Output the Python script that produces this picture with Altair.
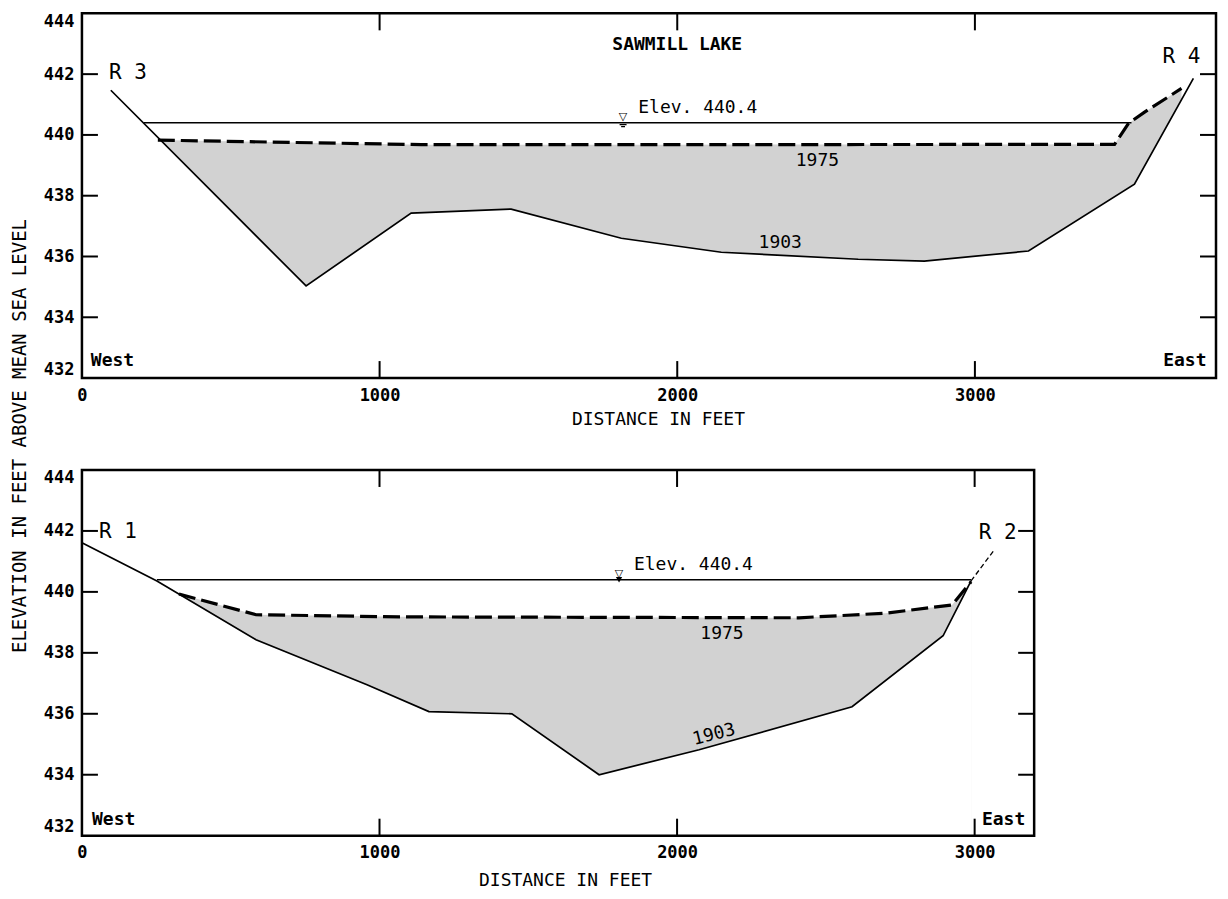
import altair as alt
import pandas as pd

FONT = "DejaVu Sans Mono"

# ---------------- data ----------------
x_tick_labels = [0, 1000, 2000, 3000]
x_inner_ticks = [1000, 2000, 3000]
y_tick_labels = [432, 434, 436, 438, 440, 442, 444]
y_inner_ticks = [434, 436, 438, 440, 442]
water_elev = 440.4

# Upper section (R3 - R4)
top_1903_x = [97, 753, 1106, 1442, 1812, 2148, 2608, 2830, 3180, 3536, 3734]
top_1903_y = [441.47, 435.03, 437.43, 437.56, 436.60, 436.14, 435.91, 435.85, 436.18, 438.38, 441.86]
top_1975_x = [255, 1140, 2000, 3469, 3516, 3570, 3694]
top_1975_y = [439.83, 439.68, 439.68, 439.69, 440.38, 440.75, 441.53]
top_water_x = [208, 3526]
top_symbol_x = [1818]

# Lower section (R1 - R2)
bot_1903_x = [0, 252, 585, 958, 1166, 1445, 1738, 2074, 2588, 2894, 2988]
bot_1903_y = [441.61, 440.36, 438.43, 436.95, 436.07, 436.00, 434.00, 434.82, 436.23, 438.56, 440.36]
bot_1903_ext_x = [2988, 3066]
bot_1903_ext_y = [440.36, 441.38]
bot_1975_x = [326, 585, 1066, 2410, 2700, 2924, 2988]
bot_1975_y = [439.93, 439.25, 439.18, 439.15, 439.30, 439.57, 440.33]
bot_water_x = [252, 2988]
bot_symbol_x = [1805]

# annotation texts and their positions (feet, elevation)
top_bold_text = ["SAWMILL LAKE"]
top_bold_x = [2000]
top_bold_y = [442.95]
top_elev_x = [1869]
top_elev_y = [440.88]
top_year_text = ["1975", "1903"]
top_year_x = [2471, 2346]
top_year_y = [439.13, 436.44]
top_r_text = ["R 3", "R 4"]
top_r_x = [91, 3630]
top_r_y = [442.03, 442.55]
top_west_x, top_east_x, top_we_y = 30, 3778, 432.55

bot_elev_x = [1855]
bot_elev_y = [440.89]
bot_year_text = ["1975"]
bot_year_x = [2151]
bot_year_y = [438.62]
bot_rot_text = ["1903"]
bot_rot_x = [2124]
bot_rot_y = [435.31]
bot_r_text = ["R 1", "R 2"]
bot_r_x = [57, 3014]
bot_r_y = [441.97, 441.93]
bot_west_x, bot_east_x, bot_we_y = 34, 3170, 432.52

elev_label = "Elev. 440.4"
y_title = "ELEVATION IN FEET ABOVE MEAN SEA LEVEL"


def panel(W, H, xmax, l03, l75, ext03, water_x, sym_x, sym_style, texts, title_pad, title_dx, extra_layers=()):
    xs = alt.Scale(domain=[0, xmax], nice=False, zero=False)
    ys = alt.Scale(domain=[432, 444], nice=False, zero=False)
    xax = alt.Axis(values=x_tick_labels, title="DISTANCE IN FEET", ticks=False, domain=False,
                   grid=False, labelPadding=9, labelFlush=False, titlePadding=title_pad,
                   titleX=W / 2 + title_dx, format="d")
    yax = alt.Axis(values=y_tick_labels, title="", ticks=False, domain=False, grid=False,
                   labelPadding=8, labelFlush=True, format="d")

    def X():
        return alt.X("x:Q", scale=xs, axis=xax)

    def Y():
        return alt.Y("y:Q", scale=ys, axis=yax)

    d03 = pd.DataFrame({"x": l03[0], "y": l03[1]})
    d75 = pd.DataFrame({"x": l75[0], "y": l75[1]})
    dw = pd.DataFrame({"x": water_x, "y": [water_elev] * len(water_x)})

    layers = []
    layers.append(alt.Chart(d75).mark_area(color="#d2d2d2").encode(x=X(), y=Y(), y2=alt.datum(432)))
    layers.append(alt.Chart(d03).mark_area(color="white", opacity=1).encode(x=X(), y=Y(), y2=alt.datum(432)))
    layers.append(alt.Chart(dw).mark_line(color="black", strokeWidth=1.6).encode(x=X(), y=Y()))
    layers.append(alt.Chart(d03).mark_line(color="black", strokeWidth=1.7).encode(x=X(), y=Y()))
    if ext03 is not None:
        de = pd.DataFrame({"x": ext03[0], "y": ext03[1]})
        layers.append(alt.Chart(de).mark_line(color="black", strokeWidth=1.3, strokeDash=[5, 3]).encode(x=X(), y=Y()))
    layers.append(alt.Chart(d75).mark_line(color="black", strokeWidth=3.2, strokeDash=[17, 6]).encode(x=X(), y=Y()))

    # water level symbol
    ds = pd.DataFrame({"x": sym_x, "y": [water_elev] * len(sym_x)})
    layers.append(alt.Chart(ds).mark_text(text="▽", fontSize=11, dy=-6, font="DejaVu Sans").encode(x=X(), y=Y()))
    if sym_style == "top":
        layers.append(alt.Chart(ds).mark_point(shape="M-0.9,0.5H0.9M-0.5,1H0.5", size=60, stroke="black",
                                               strokeWidth=1.2, filled=False, opacity=1).encode(x=X(), y=Y()))
    else:
        layers.append(alt.Chart(ds).mark_point(shape="triangle-down", size=40, color="black", filled=True,
                                               opacity=1).encode(x=X(), y=Y()))

    # annotations
    for (tx, xx, yy, size, weight, align, angle) in texts:
        dt = pd.DataFrame({"x": xx, "y": yy, "t": tx})
        kw = dict(font=FONT, fontSize=size, fontWeight=weight, align=align, baseline="middle", color="black")
        if angle:
            kw["angle"] = angle
        layers.append(alt.Chart(dt).mark_text(**kw).encode(x=X(), y=Y(), text="t:N"))

    # inward ticks on all four sides
    dxt = pd.DataFrame({"x": x_inner_ticks})
    dyt = pd.DataFrame({"y": y_inner_ticks})
    tick = dict(color="black", strokeWidth=2)
    layers.append(alt.Chart(dxt).mark_rule(**tick).encode(x=X(), y=alt.value(0), y2=alt.value(17)))
    layers.append(alt.Chart(dxt).mark_rule(**tick).encode(x=X(), y=alt.value(H - 17), y2=alt.value(H)))
    layers.append(alt.Chart(dyt).mark_rule(**tick).encode(y=Y(), x=alt.value(0), x2=alt.value(16)))
    layers.append(alt.Chart(dyt).mark_rule(**tick).encode(y=Y(), x=alt.value(W - 16), x2=alt.value(W)))

    # frame
    layers.append(alt.Chart(pd.DataFrame({"a": [0]})).mark_rect(fillOpacity=0, stroke="black", strokeWidth=2.5)
                  .encode(x=alt.value(0), x2=alt.value(W), y=alt.value(0), y2=alt.value(H)))
    layers.extend(extra_layers)
    return alt.layer(*layers).properties(width=W, height=H)


top_texts = [
    (top_bold_text, top_bold_x, top_bold_y, 18, "bold", "center", None),
    ([elev_label], top_elev_x, top_elev_y, 18, "normal", "left", None),
    (top_year_text, top_year_x, top_year_y, 18, "normal", "center", None),
    (top_r_text, top_r_x, top_r_y, 21, "normal", "left", None),
    (["West"], [top_west_x], [top_we_y], 18, "bold", "left", None),
    (["East"], [top_east_x], [top_we_y], 18, "bold", "right", None),
]
bot_texts = [
    ([elev_label], bot_elev_x, bot_elev_y, 18, "normal", "left", None),
    (bot_year_text, bot_year_x, bot_year_y, 18, "normal", "center", None),
    (bot_rot_text, bot_rot_x, bot_rot_y, 18, "normal", "center", 346),
    (bot_r_text, bot_r_x, bot_r_y, 21, "normal", "left", None),
    (["West"], [bot_west_x], [bot_we_y], 18, "bold", "left", None),
    (["East"], [bot_east_x], [bot_we_y], 18, "bold", "right", None),
]

ytitle_layer = alt.Chart(pd.DataFrame({"t": [y_title]})).mark_text(
    angle=270, font=FONT, fontSize=19, align="center", baseline="middle", color="black"
).encode(x=alt.value(-62), y=alt.value(-34), text="t:N")

top = panel(1135, 365, 3810, (top_1903_x, top_1903_y), (top_1975_x, top_1975_y), None,
            top_water_x, top_symbol_x, "top", top_texts, 7, 9)
bottom = panel(953, 366, 3200, (bot_1903_x, bot_1903_y), (bot_1975_x, bot_1975_y),
               (bot_1903_ext_x, bot_1903_ext_y), bot_water_x, bot_symbol_x, "bottom", bot_texts, 11, 7,
               extra_layers=[ytitle_layer])

chart = alt.vconcat(top, bottom, spacing=92, bounds="flush").properties(
    padding={"left": 2, "top": 3, "right": 2, "bottom": 2}
).configure_view(stroke=None).configure_axis(
    labelFont=FONT, labelFontSize=17, labelFontWeight="bold", labelColor="black",
    titleFont=FONT, titleFontSize=18, titleFontWeight="normal", titleColor="black"
)

chart.save("out.html", embed_options={"renderer": "svg", "actions": False})
